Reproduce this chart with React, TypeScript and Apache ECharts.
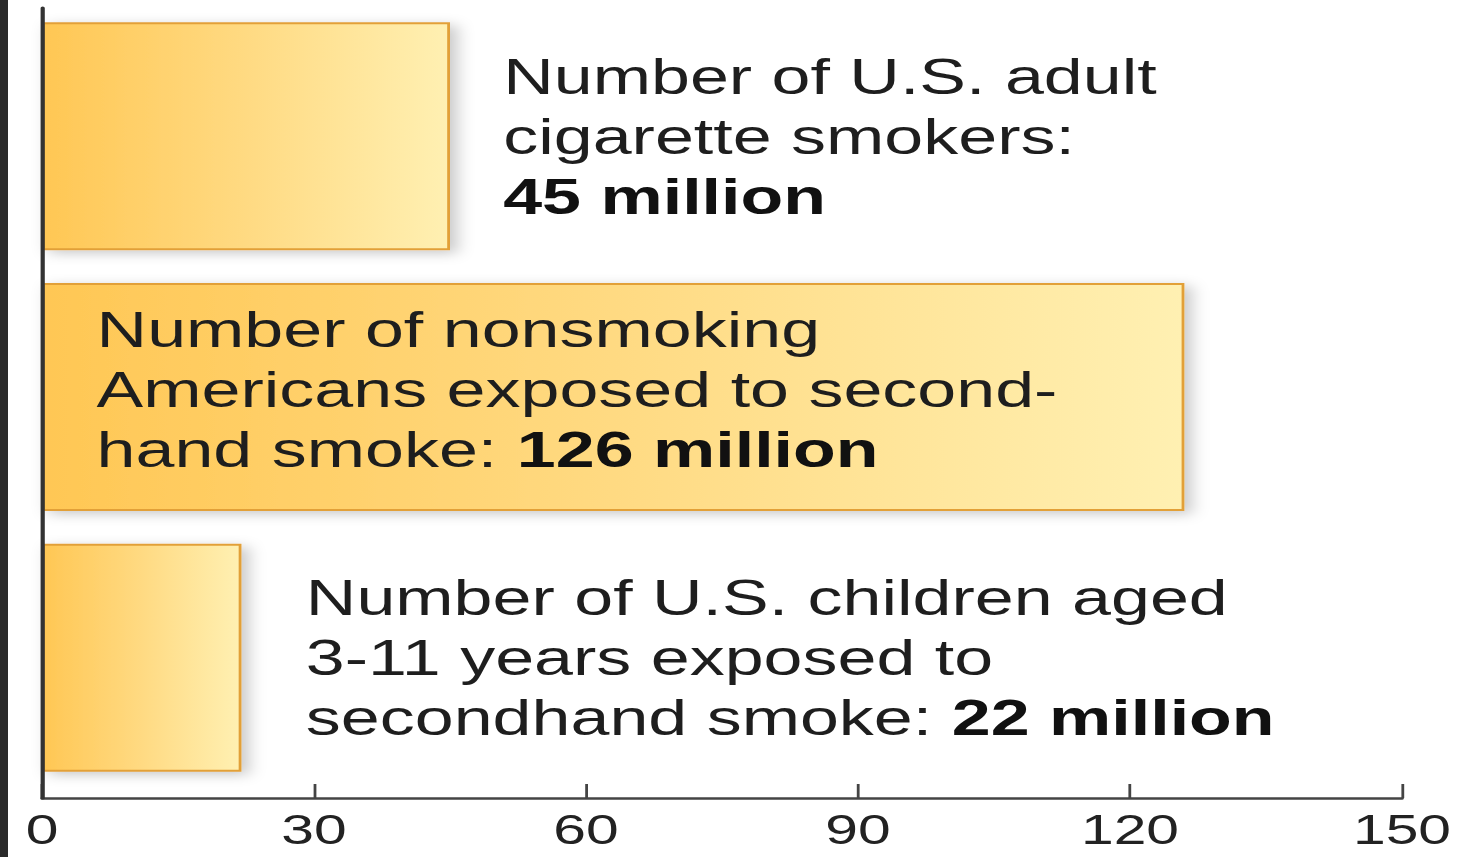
import React, { useEffect, useRef } from "react";
import * as echarts from "echarts";

// ---- data ----
const categories = ["Adult cigarette smokers", "Nonsmokers exposed", "Children 3-11 exposed"];
const values = [45, 126, 22];
const labelLines = [
  ["Number of U.S. adult", "cigarette smokers:", ""],
  ["Number of nonsmoking", "Americans exposed to second-", "hand smoke: "],
  ["Number of U.S. children aged", "3-11 years exposed to", "secondhand smoke: "],
];
const amounts = ["45 million", "126 million", "22 million"];
const xTicks = [0, 30, 60, 90, 120, 150];

const STRETCH = 1.4;
const PAGE_W = 1460;
const PAGE_H = 857;
const CHART_W = PAGE_W / STRETCH;

function buildLabel(i: number) {
  const lines = labelLines[i];
  const head = lines.slice(0, -1).map((l) => `{a|${l}}`).join("\n");
  const last = lines[lines.length - 1];
  return head + "\n" + (last ? `{a|${last}}` : "") + `{b|${amounts[i]}}`;
}

const labelPlacement = [
  { position: "right", distance: 38, offset: [0, 0] },
  { position: "insideLeft", distance: 39, offset: [0, -7] },
  { position: "right", distance: 46, offset: [0, 0] },
];

export default function App() {
  const ref = useRef<HTMLDivElement>(null);
  useEffect(() => {
    if (!ref.current) return;
    const chart = echarts.init(ref.current, undefined, { renderer: "svg" });
    const gradient = new echarts.graphic.LinearGradient(0, 0, 1, 0, [
      { offset: 0, color: "#FFC754" },
      { offset: 0.5, color: "#FFDA82" },
      { offset: 1, color: "#FFF0B2" },
    ]);
    const data = values.map((v, i) => ({
      value: v,
      name: categories[i],
      label: {
        show: true,
        position: labelPlacement[i].position,
        distance: labelPlacement[i].distance,
        offset: labelPlacement[i].offset,
        formatter: buildLabel(i),
      },
    }));
    chart.setOption({
      animation: false,
      backgroundColor: "#ffffff",
      grid: [
        { left: 30, top: 6, width: 971.43, height: 782 },
        { left: 30, top: 8, width: 971.43, height: 790 },
      ],
      xAxis: [
        {
          gridIndex: 0,
          type: "value",
          min: xTicks[0],
          max: xTicks[xTicks.length - 1],
          interval: 30,
          offset: 10,
          axisLine: { show: true, lineStyle: { color: "#444", width: 2.5 } },
          axisTick: { show: true, inside: true, length: 14, lineStyle: { color: "#444", width: 2 } },
          axisLabel: {
            show: true,
            margin: 15,
            fontSize: 42,
            lineHeight: 34,
            color: "#222",
            fontFamily: "Liberation Sans, Arial, sans-serif",
          },
          splitLine: { show: false },
        },
        {
          gridIndex: 1,
          type: "value",
          min: 0,
          max: 150,
          show: false,
        },
      ],
      yAxis: [
        {
          gridIndex: 0,
          type: "category",
          data: categories,
          inverse: true,
          axisLine: { show: false },
          axisTick: { show: false },
          axisLabel: { show: false },
          splitLine: { show: false },
        },
        {
          gridIndex: 1,
          type: "value",
          min: 0,
          max: 1,
          z: 10,
          axisLine: { show: true, onZero: false, lineStyle: { color: "#333", width: 3 } },
          axisTick: { show: false },
          axisLabel: { show: false },
          splitLine: { show: false },
        },
      ],
      series: [
        {
          type: "bar",
          xAxisIndex: 0,
          yAxisIndex: 0,
          barWidth: 228,
          data,
          itemStyle: {
            color: gradient,
            borderColor: "#E2A038",
            borderWidth: 2,
            shadowBlur: 12,
            shadowColor: "rgba(0,0,0,0.22)",
            shadowOffsetX: 5,
            shadowOffsetY: 3,
          },
          label: {
            show: true,
            color: "#1e1e1e",
            fontFamily: "Liberation Sans, Arial, sans-serif",
            align: "left",
            verticalAlign: "middle",
            rich: {
              a: { fontSize: 50, lineHeight: 60, color: "#1e1e1e", fontFamily: "Liberation Sans, Arial, sans-serif" },
              b: { fontSize: 50, lineHeight: 60, fontWeight: "bold", color: "#111", fontFamily: "Liberation Sans, Arial, sans-serif" },
            },
          },
        },
      ],
    });
    return () => chart.dispose();
  }, []);

  return (
    <div
      style={{
        position: "fixed",
        left: 0,
        top: 0,
        width: PAGE_W,
        height: PAGE_H,
        overflow: "hidden",
        background: "#ffffff",
      }}
    >
      <div
        ref={ref}
        style={{
          position: "absolute",
          left: 0,
          top: 0,
          width: CHART_W,
          height: PAGE_H,
          transform: `scaleX(${STRETCH})`,
          transformOrigin: "0 0",
        }}
      />
      <div
        style={{
          position: "absolute",
          left: 0,
          top: 0,
          width: 8,
          height: PAGE_H,
          background: "#2a2a2a",
        }}
      />
    </div>
  );
}
